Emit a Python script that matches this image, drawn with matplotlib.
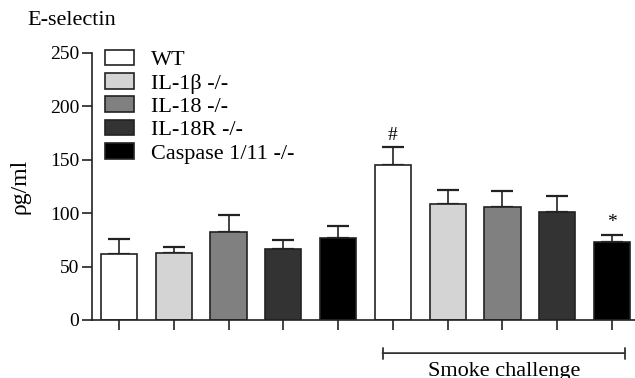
import numpy as np
import matplotlib
matplotlib.use('Agg')
import matplotlib.pyplot as plt
from matplotlib.patches import Patch

plt.rcParams['font.family'] = ['Liberation Serif', 'DejaVu Serif']

# data
groups = ['WT', 'IL-1\u03b2 -/-', 'IL-18 -/-', 'IL-18R -/-', 'Caspase 1/11 -/-']
colors = ['#ffffff', '#d4d4d4', '#808080', '#333333', '#000000']
control_means = [62, 63, 82, 66.5, 76.5]
control_sem = [14, 5.5, 16, 8.5, 11.5]
smoke_means = [145, 108.5, 106, 101, 73.5]
smoke_sem = [17, 13.5, 15, 15, 6.5]
marks = ['', '', '', '', '', '#', '', '', '', '*']

means = control_means + smoke_means
sems = control_sem + smoke_sem
bar_colors = colors + colors
x = np.arange(len(means))

fig = plt.figure(figsize=(6.35, 3.78), dpi=100)
ax = fig.add_axes([92 / 635, 1 - 320 / 378, 543 / 635, 267 / 378])

edge = '#222222'
ax.bar(x, means, width=0.66, color=bar_colors, edgecolor=edge, linewidth=1.2, zorder=2)
ax.errorbar(x, means, yerr=[np.zeros(len(sems)), sems], fmt='none',
            ecolor=edge, elinewidth=1.2, capsize=8, capthick=1.6, zorder=1)

for xi, m, s, t in zip(x, means, sems, marks):
    if t:
        ax.text(xi, m + s + 3, t, ha='center', va='bottom', fontsize=14)

ax.set_xlim(-0.493, 9.42)
ax.set_ylim(0, 250)
ax.set_yticks([0, 50, 100, 150, 200, 250])
ax.set_xticks(x)
ax.set_xticklabels([])
ax.tick_params(axis='both', length=7, width=1.2, color=edge, labelsize=14, pad=2)
for side in ['top', 'right']:
    ax.spines[side].set_visible(False)
for side in ['left', 'bottom']:
    ax.spines[side].set_color(edge)
    ax.spines[side].set_linewidth(1.2)

ax.set_ylabel('\u03c1g/ml', fontsize=17, labelpad=14)

handles = [Patch(facecolor=c, edgecolor=edge, linewidth=1.2) for c in colors]
ax.legend(handles, groups, loc='upper left', bbox_to_anchor=(0.024, 1.013),
          frameon=False, fontsize=16, handlelength=1.3, handleheight=0.7,
          labelspacing=0.13, handletextpad=0.75, borderpad=0, borderaxespad=0)

# smoke challenge bracket
ax.annotate('', xy=(4.76, -31), xytext=(9.29, -31), xycoords='data',
            arrowprops=dict(arrowstyle='|-|', mutation_scale=4, color='#333333', lw=1.3),
            annotation_clip=False)
ax.text((4.76 + 9.29) / 2, -39, 'Smoke challenge', ha='center', va='top',
        fontsize=16, clip_on=False)

fig.text(27 / 635, 1 - 25 / 378, 'E-selectin', ha='left', va='baseline', fontsize=16)

fig.savefig('out.png', dpi=100)
